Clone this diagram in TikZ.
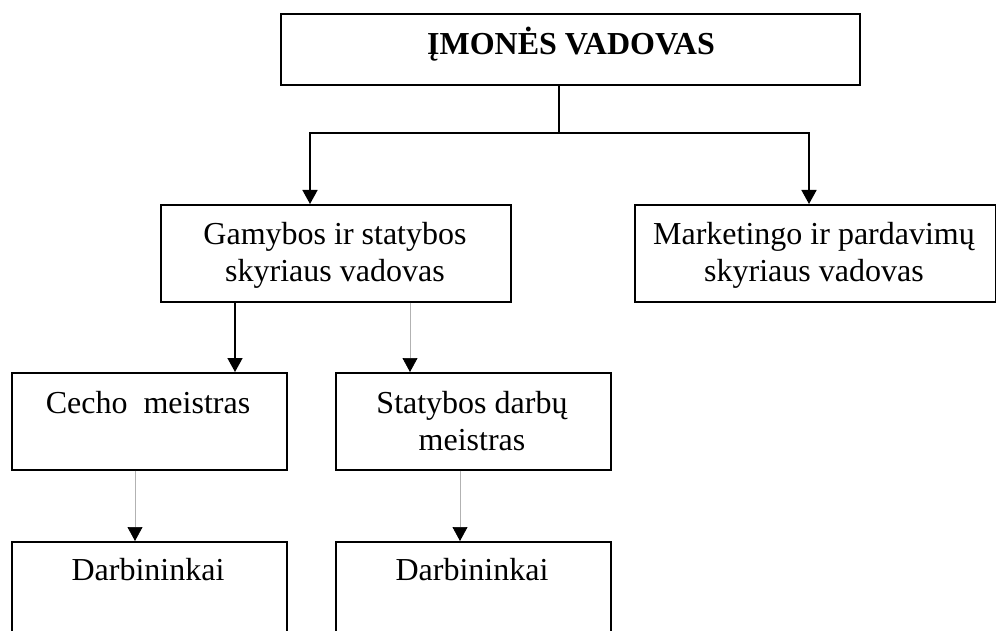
\documentclass[tikz,border=0pt]{standalone}
\usepackage{fontspec}
\setmainfont{Liberation Serif}
\usetikzlibrary{arrows.meta}
\begin{document}
\begin{tikzpicture}[x=1pt,y=-1pt,
  box/.style={draw=black,line width=1.6pt,rectangle,inner sep=0pt,anchor=north west},
  lbl/.style={font=\fontsize{32}{37}\selectfont,align=center,anchor=base,inner sep=0pt},
  strong/.style={draw=black,line width=1.6pt,-{Triangle[width=15pt,length=14pt]}},
  faint/.style={draw=gray!60,line width=0.7pt,-{Triangle[width=15pt,length=14pt,color=black]}}]
\useasboundingbox (0,0) rectangle (996,631);
\clip (0,0) rectangle (996,631);
% boxes
\node[box,minimum width=579pt,minimum height=71pt] (top) at (280,13) {};
\node[box,minimum width=350pt,minimum height=97pt] (gam) at (160,204) {};
\node[box,minimum width=361pt,minimum height=97pt] (mkt) at (634,204) {};
\node[box,minimum width=275pt,minimum height=97pt] (cec) at (11,372) {};
\node[box,minimum width=275pt,minimum height=97pt] (sta) at (335,372) {};
\node[box,minimum width=275pt,minimum height=120pt] (dar1) at (11,541) {};
\node[box,minimum width=275pt,minimum height=120pt] (dar2) at (335,541) {};
% texts (multi-line nodes: base = baseline of the last line)
\node[lbl,font=\fontsize{32}{37}\selectfont\bfseries] (toptxt) at (571,55) {ĮMONĖS VADOVAS};
\node[lbl] (gamtxt) at (335,281) {Gamybos ir statybos\\skyriaus vadovas};
\node[lbl] (mkttxt) at (814,281) {Marketingo ir pardavimų\\skyriaus vadovas};
\node[lbl] (cectxt) at (148,413) {Cecho~~meistras};
\node[lbl] (statxt) at (472,450) {Statybos darbų\\meistras};
\node[lbl] (dar1txt) at (148,580) {Darbininkai};
\node[lbl] (dar2txt) at (472,580) {Darbininkai};
% connector coordinates
\coordinate (j) at (559,133);
\coordinate (jL) at (310,133);
\coordinate (jR) at (809,133);
\coordinate (xC) at (235,0);
\coordinate (xS) at (410,0);
\coordinate (xD1) at (135,0);
\coordinate (xD2) at (460,0);
% connectors
\draw[line width=1.6pt] (top.south -| j) -- (j);
\draw[strong] (j) -- (jL) -- (gam.north -| jL);
\draw[strong] (j) -- (jR) -- (mkt.north -| jR);
\draw[strong] (gam.south -| xC) -- (cec.north -| xC);
\draw[faint] (gam.south -| xS) -- (sta.north -| xS);
\draw[faint] (cec.south -| xD1) -- (dar1.north -| xD1);
\draw[faint] (sta.south -| xD2) -- (dar2.north -| xD2);
\end{tikzpicture}
\end{document}
